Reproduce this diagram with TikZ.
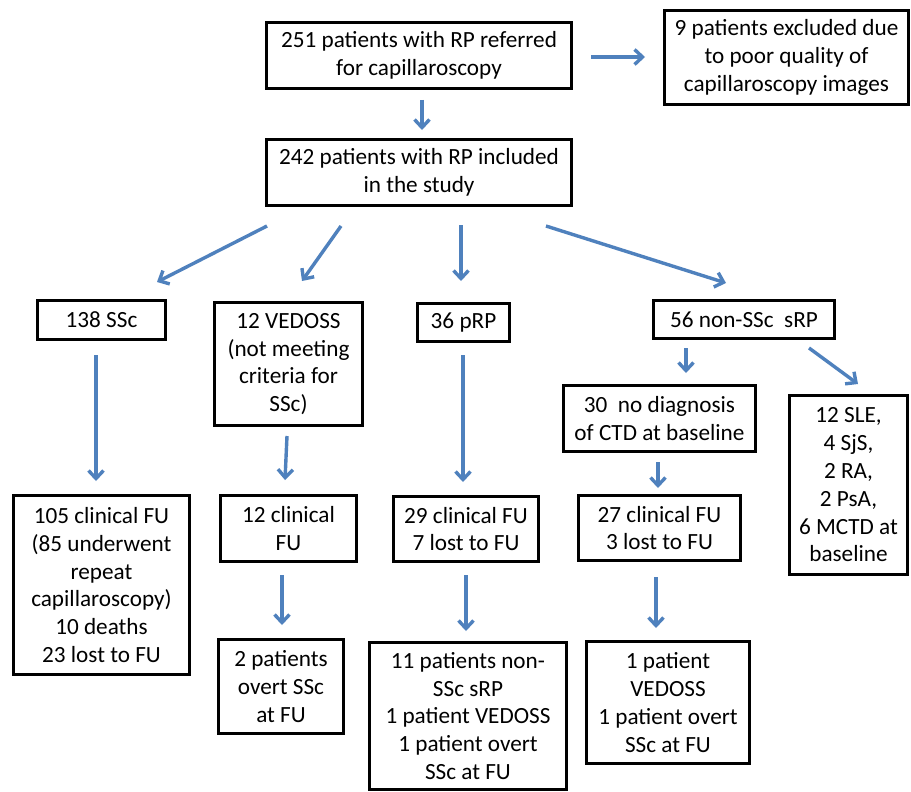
\documentclass[tikz,border=0pt]{standalone}
\usepackage{fontspec}
\setmainfont{Carlito}
\usetikzlibrary{arrows.meta,calc}
\definecolor{arrblue}{RGB}{79,129,189}
\begin{document}
\begin{tikzpicture}[x=1pt,y=-1pt,
  box/.style={draw=black,line width=3pt,inner sep=0pt,align=center,
    font=\fontsize{23.2}{27.8}\selectfont},
  arr/.style={draw=arrblue,line width=3.4pt,
    -{Straight Barb[length=8pt,width=15pt]}}]
\useasboundingbox (0,0) rectangle (911,792);
\fill[white] (0,0) rectangle (911,792);
% boxes: centre, width, height (pixel coordinates)
\node[box,minimum width=305pt,minimum height=66pt] (A) at (419,55.5) {251 patients with RP referred\\for capillaroscopy};
\node[box,minimum width=244pt,minimum height=94pt] (B) at (786.5,57.5) {9 patients excluded due\\to poor quality of\\capillaroscopy images};
\node[box,minimum width=305pt,minimum height=66pt] (C) at (419,172.5) {242 patients with RP included\\in the study};
\node[box,minimum width=128pt,minimum height=39pt] (D) at (101.5,320) {138 SSc};
\node[box,minimum width=148pt,minimum height=123pt] (E) at (288.5,364) {12 VEDOSS\\(not meeting\\criteria for\\SSc)};
\node[box,minimum width=92pt,minimum height=38pt] (F) at (463.5,322.5) {36 pRP};
\node[box,minimum width=181pt,minimum height=38pt] (G) at (744,319.5) {56 non-SSc\ \ sRP};
\node[box,minimum width=192pt,minimum height=66pt] (H) at (659.5,418.5) {30\ \ no diagnosis\\of CTD at baseline};
\node[box,minimum width=118pt,minimum height=179pt] (I) at (848.5,485) {12 SLE,\\4 SjS,\\2 RA,\\2 PsA,\\6 MCTD at\\baseline};
\node[box,minimum width=176pt,minimum height=179pt] (J) at (101.5,585) {105 clinical FU\\(85 underwent\\repeat\\capillaroscopy)\\10 deaths\\23 lost to FU};
\node[box,minimum width=136pt,minimum height=66pt] (K) at (288.5,528.5) {12 clinical\\FU};
\node[box,minimum width=145pt,minimum height=65pt] (L) at (466,529) {29 clinical FU\\7 lost to FU};
\node[box,minimum width=162pt,minimum height=65pt] (M) at (659.5,528) {27 clinical FU\\3 lost to FU};
\node[box,minimum width=125pt,minimum height=94pt] (N) at (281,686.5) {2 patients\\overt SSc\\at FU};
\node[box,minimum width=197pt,minimum height=147pt] (O) at (468,716) {11 patients non-\\SSc sRP\\1 patient VEDOSS\\1 patient overt\\SSc at FU};
\node[box,minimum width=163pt,minimum height=122pt] (P) at (668,702.5) {1 patient\\VEDOSS\\1 patient overt\\SSc at FU};
% connectors
\draw[arr] ($(A.east)+(18,1.5)$) -- ($(B.west)+(-18,-0.5)$);
\draw[arr] ($(A.south)+(3,10)$) -- ($(C.north)+(3,-8)$);
\draw[arr] ($(C.south west)+(2,19)$) -- ($(D.north)+(55.5,-17)$);
\draw[arr] ($(C.south west)+(76,19)$) -- ($(E.north)+(13.5,-20)$);
\draw[arr] ($(C.south)+(42,18)$) -- ($(F.north)+(-2.5,-21)$);
\draw[arr] ($(C.south east)+(-27,19)$) -- ($(G.north)+(-18,-16)$);
\draw[arr] ($(D.south)+(-5.5,14)$) -- ($(J.north)+(-5.5,-13)$);
\draw[arr] ($(E.south)+(-1.5,9)$) -- ($(K.north)+(-3.5,-14)$);
\draw[arr] ($(F.south)+(-0.5,12)$) -- ($(L.north)+(-3,-13)$);
\draw[arr] ($(G.south)+(-58,8)$) -- ($(H.north)+(26.5,-11)$);
\draw[arr] ($(G.south east)+(-27,8)$) -- ($(I.north)+(9.5,-10)$);
\draw[arr] ($(H.south)+(-1.5,9)$) -- ($(M.north)+(-1.5,-6)$);
\draw[arr] ($(K.south)+(-6.5,12)$) -- ($(N.north)+(1,-13)$);
\draw[arr] ($(L.south)+(0,12)$) -- ($(O.north)+(-2,-10)$);
\draw[arr] ($(M.south)+(-3.5,15)$) -- ($(P.north)+(-12,-12)$);
\end{tikzpicture}
\end{document}
